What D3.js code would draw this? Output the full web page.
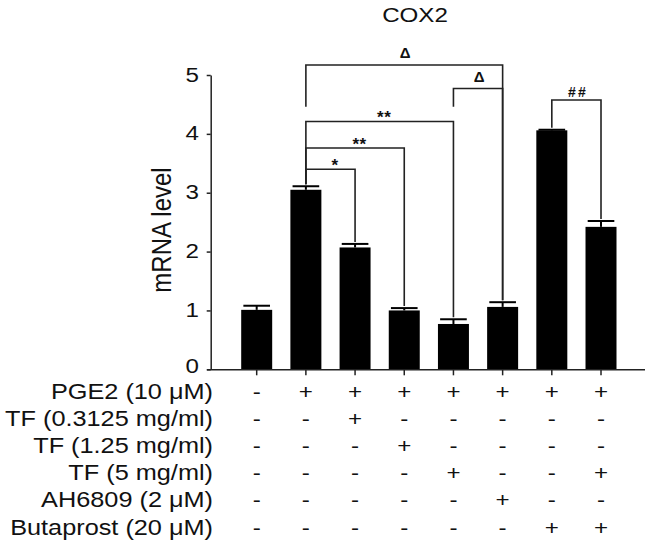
<!DOCTYPE html>
<html>
<head>
<meta charset="utf-8">
<script src="https://cdn.jsdelivr.net/npm/d3@7"></script>
<style>
  html, body { margin: 0; padding: 0; background: #fff; }
  svg { display: block; }
  text { font-family: "Liberation Sans", Arial, Helvetica, sans-serif; fill: #111; }
</style>
</head>
<body>
<svg id="chart" width="650" height="546"></svg>
<script>
// ---------- data ----------
const title = "COX2";
const yLabel = "mRNA level";
const groups = ["G1", "G2", "G3", "G4", "G5", "G6", "G7", "G8"];
const means = [1.01, 3.05, 2.07, 1.00, 0.77, 1.06, 4.06, 2.42];
const errors = [0.07, 0.06, 0.06, 0.04, 0.08, 0.08, 0.01, 0.10];
const yTicks = [0, 1, 2, 3, 4, 5];
const rowLabels = ["PGE2 (10 μM)", "TF (0.3125 mg/ml)", "TF (1.25 mg/ml)", "TF (5 mg/ml)", "AH6809 (2 μM)", "Butaprost (20 μM)"];
const treatments = [
  ["-", "+", "+", "+", "+", "+", "+", "+"],
  ["-", "-", "+", "-", "-", "-", "-", "-"],
  ["-", "-", "-", "+", "-", "-", "-", "-"],
  ["-", "-", "-", "-", "+", "-", "-", "+"],
  ["-", "-", "-", "-", "-", "+", "-", "-"],
  ["-", "-", "-", "-", "-", "-", "+", "+"]
];
// significance brackets: from group index, to group index, bracket level (data units), label, optional left-leg stop level
const bracketFrom = [1, 4, 1, 1, 1, 6];
const bracketTo = [5, 5, 4, 3, 2, 7];
const bracketLevel = [5.17, 4.77, 4.21, 3.76, 3.40, 4.575];
const bracketLabel = ["Δ", "Δ", "**", "**", "*", "##"];
const bracketLeftStop = [4.46, 4.46, null, null, null, null];

// ---------- layout ----------
const svg = d3.select("#chart");
const SX = 1.15; // horizontal stretch of the glyphs in the reference

const y = d3.scaleLinear().domain([0, 5]).range([369.3, 75]);
const x = d3.scaleBand().domain(groups).range([232.1, 625.6]).paddingInner(0.37).paddingOuter(0.185);
const axisX0 = 210.7;
const lineColor = "#222";

// title
svg.append("text")
  .attr("transform", `translate(415,21.7) scale(${SX},1)`)
  .attr("text-anchor", "middle")
  .attr("font-size", 21)
  .text(title);

// y label
svg.append("text")
  .attr("transform", `translate(171,230) scale(${SX},1) rotate(-90)`)
  .attr("text-anchor", "middle")
  .attr("font-size", 24)
  .text(yLabel);

// bars
svg.append("g").selectAll("rect")
  .data(groups)
  .join("rect")
  .attr("x", d => x(d))
  .attr("width", x.bandwidth())
  .attr("y", (d, i) => y(means[i]))
  .attr("height", (d, i) => y(0) - y(means[i]))
  .attr("fill", "#000");

// error bars
const capW = x.bandwidth() * 0.86;
const eb = svg.append("g").attr("stroke", "#000").attr("stroke-width", 2);
groups.forEach((g, i) => {
  const cx = x(g) + x.bandwidth() / 2;
  eb.append("line").attr("x1", cx).attr("x2", cx).attr("y1", y(means[i])).attr("y2", y(means[i] + errors[i]));
  eb.append("line").attr("x1", cx - capW / 2).attr("x2", cx + capW / 2)
    .attr("y1", y(means[i] + errors[i])).attr("y2", y(means[i] + errors[i]));
});

// y axis
const yAxis = svg.append("g")
  .attr("transform", `translate(${axisX0},0)`)
  .call(d3.axisLeft(y).tickValues(yTicks).tickSize(4).tickSizeOuter(0).tickFormat(""));
yAxis.selectAll("path, line").attr("stroke", lineColor).attr("stroke-width", 1.5);
yTicks.forEach(t => {
  svg.append("text")
    .attr("transform", `translate(199,${y(t) + (t === 0 ? 4 : 6.5)}) scale(${SX},1)`)
    .attr("text-anchor", "end")
    .attr("font-size", 21)
    .text(t);
});

// x axis
const xAxis = svg.append("g")
  .attr("transform", `translate(0,${y(0)})`)
  .call(d3.axisBottom(x).tickSize(6).tickSizeOuter(0).tickFormat(""));
xAxis.select("path.domain").attr("d", `M${207},0.5H${645}`);
xAxis.selectAll("path, line").attr("stroke", lineColor).attr("stroke-width", 1.5);

// treatment table
const rowY0 = 391, rowStep = 27.2;
rowLabels.forEach((lab, r) => {
  const by = rowY0 + r * rowStep + 7.5;
  svg.append("text")
    .attr("transform", `translate(213,${by}) scale(${SX},1)`)
    .attr("text-anchor", "end")
    .attr("font-size", 22)
    .text(lab);
  treatments[r].forEach((s, i) => {
    const cx = x(groups[i]) + x.bandwidth() / 2;
    svg.append("text")
      .attr("transform", `translate(${cx},${by}) scale(${SX},1)`)
      .attr("text-anchor", "middle")
      .attr("font-size", 21)
      .text(s);
  });
});

// significance brackets
const bg = svg.append("g");
const gap = 2;
bracketFrom.forEach((a, k) => {
  const b = bracketTo[k];
  const xa = x(groups[a]) + x.bandwidth() / 2;
  const xb = x(groups[b]) + x.bandwidth() / 2;
  const yl = y(bracketLevel[k]);
  const ya = bracketLeftStop[k] != null ? y(bracketLeftStop[k]) : y(means[a] + errors[a]) - gap;
  const yb = y(means[b] + errors[b]) - gap;
  bg.append("path")
    .attr("d", `M${xa},${ya}V${yl}H${xb}V${yb}`)
    .attr("fill", "none")
    .attr("stroke", lineColor)
    .attr("stroke-width", 1.6);
  const lab = bracketLabel[k];
  const mid = (xa + xb) / 2;
  const t = bg.append("text").attr("text-anchor", "middle").attr("font-weight", "bold").text(lab);
  if (lab === "Δ") {
    t.attr("x", mid + 1).attr("y", yl - 7).attr("font-size", 15);
  } else if (lab === "##") {
    t.attr("x", mid + 1.5).attr("y", yl - 3.5).attr("font-size", 14).attr("letter-spacing", 2);
  } else {
    t.attr("x", mid + 4.5).attr("y", yl + 2).attr("font-size", 17).attr("letter-spacing", 0.5);
  }
});
</script>
</body>
</html>
